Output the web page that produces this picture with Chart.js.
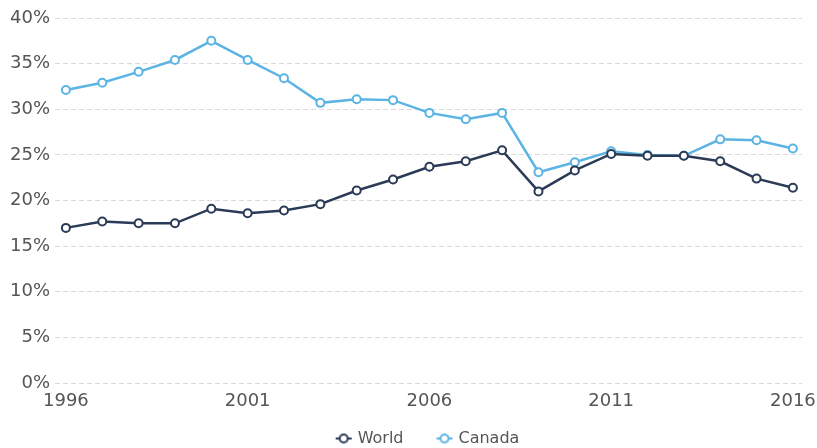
<!DOCTYPE html>
<html>
<head>
<meta charset="utf-8">
<script src="https://cdn.jsdelivr.net/npm/chart.js@4/dist/chart.umd.min.js"></script>
<style>
html,body{margin:0;padding:0;background:#fff;}
#wrap{width:817px;height:448px;}
</style>
</head>
<body>
<div id="wrap"><canvas id="c" width="817" height="448"></canvas></div>
<script>
const years = [1996,1997,1998,1999,2000,2001,2002,2003,2004,2005,2006,2007,2008,2009,2010,2011,2012,2013,2014,2015,2016];
const worldValues = [17.0,17.7,17.5,17.5,19.1,18.6,18.9,19.6,21.1,22.3,23.7,24.3,25.5,21.0,23.3,25.1,24.9,24.9,24.3,22.4,21.4];
const canadaValues = [32.1,32.9,34.1,35.4,37.5,35.4,33.4,30.7,31.1,31.0,29.6,28.9,29.6,23.1,24.2,25.4,25.0,24.9,26.7,26.6,25.7];
const shownYearLabels = [1996,2001,2006,2011,2016];
const yTicks = [0,5,10,15,20,25,30,35,40];

const worldColor = '#2b3b57';
const canadaColor = '#5bb4e4';

function legendIcon(color){
  const cv = document.createElement('canvas');
  cv.width = 18; cv.height = 14;
  const g = cv.getContext('2d');
  g.strokeStyle = color; g.lineWidth = 2;
  g.beginPath(); g.moveTo(1,7); g.lineTo(17,7); g.stroke();
  g.fillStyle = '#fff';
  g.beginPath(); g.arc(9,7,4,0,Math.PI*2); g.fill(); g.stroke();
  return cv;
}

const toPts = (vals) => vals.map((v,i)=>({x: years[i], y: v}));

// legend: wide horizontal gaps (padding) but compact vertical placement
const legendFix = {
  id: 'legendFix',
  beforeLayout(chart) {
    const lg = chart.legend;
    if (lg && !lg._fixed) {
      const f = lg.fit;
      lg.fit = function(){ f.call(this); this.height = 35; };
      lg._fixed = true;
    }
  },
  afterLayout(chart) {
    const lg = chart.legend;
    if (lg) {
      lg.top = 395.5;
      lg.bottom = chart.height;
      lg.height = lg.bottom - lg.top;
    }
  }
};

new Chart(document.getElementById('c'), {
  type: 'line',
  plugins: [legendFix],
  data: {
    datasets: [
      {label:'World', data: toPts(worldValues), borderColor: worldColor, backgroundColor:'#fff',
       borderWidth: 2.5, pointRadius: 4, pointBorderWidth: 2, pointBackgroundColor:'#fff', pointBorderColor: worldColor, tension: 0},
      {label:'Canada', data: toPts(canadaValues), borderColor: canadaColor, backgroundColor:'#fff',
       borderWidth: 2.5, pointRadius: 4, pointBorderWidth: 2, pointBackgroundColor:'#fff', pointBorderColor: canadaColor, tension: 0}
    ]
  },
  options: {
    responsive: false,
    animation: false,
    layout: {padding: {left: 0, right: 15, top: 18, bottom: 0}},
    plugins: {
      tooltip: {enabled:false},
      legend: {
        position: 'bottom',
        fullSize: false,
        labels: {
          color: '#555',
          font: {family: 'DejaVu Sans', size: 16},
          usePointStyle: true,
          pointStyleWidth: 12,
          padding: 35,
          generateLabels: (chart) => chart.data.datasets.map((ds,i)=>({
            text: ds.label, fontColor: '#555', datasetIndex: i,
            pointStyle: legendIcon(ds.borderColor), hidden: false,
            strokeStyle: ds.borderColor, fillStyle: '#fff', lineWidth: 0
          }))
        }
      }
    },
    scales: {
      x: {
        type: 'linear',
        min: 1995.7, max: 2016.25,
        afterBuildTicks: (s) => { s.ticks = shownYearLabels.map(v=>({value:v})); },
        grid: {display: false, drawTicks:false},
        border: {display: false},
        ticks: {
          autoSkip: false, maxRotation: 0, padding: 8,
          color: '#555', font: {family: 'DejaVu Sans', size: 18},
          callback: (v) => String(v)
        },
        afterFit: (s) => { s.height = 30; s.paddingLeft = 0; s.paddingRight = 0; }
      },
      y: {
        min: 0, max: 40,
        afterBuildTicks: (s) => { s.ticks = yTicks.map(v=>({value:v})); },
        grid: {color: '#dadada', drawTicks: false, lineWidth: 1},
        border: {display: false, dash: [5,3]},
        ticks: {
          padding: 5, color: '#555', font: {family: 'DejaVu Sans', size: 18},
          callback: (v) => v + '%'
        },
        afterFit: (s) => { s.width = 55; }
      }
    }
  }
});
</script>
</body>
</html>
